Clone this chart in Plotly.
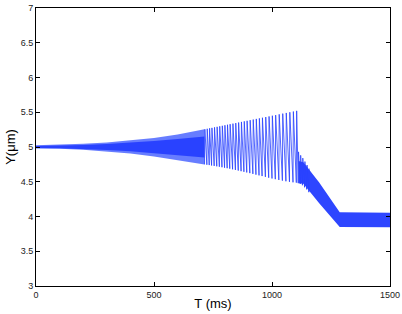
import plotly.graph_objects as go

# ---- data ----
# dense early oscillation band (0-714 ms): outer envelope and darker core
early_t = [0, 100, 200, 300, 400, 500, 600, 714]
early_hi = [5.025, 5.03, 5.045, 5.065, 5.095, 5.13, 5.18, 5.255]
early_lo = [4.978, 4.975, 4.96, 4.935, 4.905, 4.865, 4.815, 4.75]
core_hi = [5.015, 5.02, 5.03, 5.042, 5.062, 5.085, 5.115, 5.15]
core_lo = [4.986, 4.983, 4.973, 4.958, 4.94, 4.915, 4.885, 4.85]

# resolved spikes (peak times, peak and trough values)
spike_t = [714, 724, 734, 744, 755, 766, 777, 788, 799, 810, 821, 833, 845, 857,
           869, 881, 893, 906, 919, 932, 945, 958, 972, 986, 1000, 1014, 1029,
           1044, 1059, 1074, 1089, 1103, 1111, 1120, 1129, 1138, 1147, 1156]
spike_hi = [5.255, 5.262, 5.269, 5.275, 5.283, 5.290, 5.298, 5.305, 5.313, 5.320,
            5.328, 5.336, 5.344, 5.352, 5.361, 5.369, 5.377, 5.386, 5.395, 5.404,
            5.412, 5.421, 5.431, 5.440, 5.450, 5.459, 5.470, 5.480, 5.490, 5.500,
            5.510, 5.520, 4.93, 4.88, 4.84, 4.79, 4.74, 4.69]
spike_lo = [4.750, 4.745, 4.740, 4.734, 4.728, 4.722, 4.716, 4.709, 4.702, 4.695,
            4.688, 4.679, 4.670, 4.661, 4.652, 4.643, 4.634, 4.624, 4.613, 4.602,
            4.592, 4.582, 4.570, 4.558, 4.547, 4.537, 4.526, 4.516, 4.507, 4.499,
            4.492, 4.487, 4.48, 4.47, 4.45, 4.42, 4.39, 4.35]

# late band: linear descent then flat oscillation
late_t = [1112, 1133, 1200, 1287, 1500]
late_hi = [4.80, 4.78, 4.49, 4.06, 4.055]
late_lo = [4.48, 4.47, 4.19, 3.85, 3.845]

x_ticks = [0, 500, 1000, 1500]
y_ticks = [3, 3.5, 4, 4.5, 5, 5.5, 6, 6.5, 7]

fig = go.Figure()


def band(t, hi, lo, color):
    fig.add_trace(go.Scatter(
        x=list(t) + list(t)[::-1], y=list(hi) + list(lo)[::-1],
        mode="lines", fill="toself", fillcolor=color,
        line=dict(width=0), hoverinfo="skip", showlegend=False))


band(early_t, early_hi, early_lo, "rgba(45,75,255,0.72)")
band(early_t, core_hi, core_lo, "rgba(30,55,255,0.85)")
band(late_t, late_hi, late_lo, "rgba(35,60,255,0.95)")

sx, sy = [], []
for t, h, l in zip(spike_t, spike_hi, spike_lo):
    sx += [t, t + 1.5]
    sy += [l, h]
fig.add_trace(go.Scatter(x=sx, y=sy, mode="lines",
                         line=dict(color="rgba(40,65,255,0.8)", width=1),
                         hoverinfo="skip", showlegend=False))

axis_common = dict(showline=True, linecolor="#000", linewidth=1, mirror="ticks",
                   ticks="inside", ticklen=4, tickcolor="#000", tickwidth=1,
                   showgrid=False, zeroline=False, automargin=False,
                   tickfont=dict(family="Liberation Sans", size=9, color="#222"))

fig.update_layout(
    width=402, height=314,
    margin=dict(l=36, r=12, t=8, b=28),
    paper_bgcolor="white", plot_bgcolor="white",
    xaxis=dict(range=[0, 1500], tickvals=x_ticks, ticktext=[str(v) for v in x_ticks],
               title=dict(text="T (ms)", font=dict(family="Liberation Sans", size=13, color="#000"),
                          standoff=0),
               **axis_common),
    yaxis=dict(range=[3, 7], tickvals=y_ticks, ticktext=[f"{v:g}" for v in y_ticks],
               title=dict(text="Y(μm)", font=dict(family="Liberation Sans", size=13, color="#000"),
                          standoff=2),
               **axis_common),
)

fig.write_html("out.html", config={"displayModeBar": False},
               post_script="document.body.style.margin='0';")
